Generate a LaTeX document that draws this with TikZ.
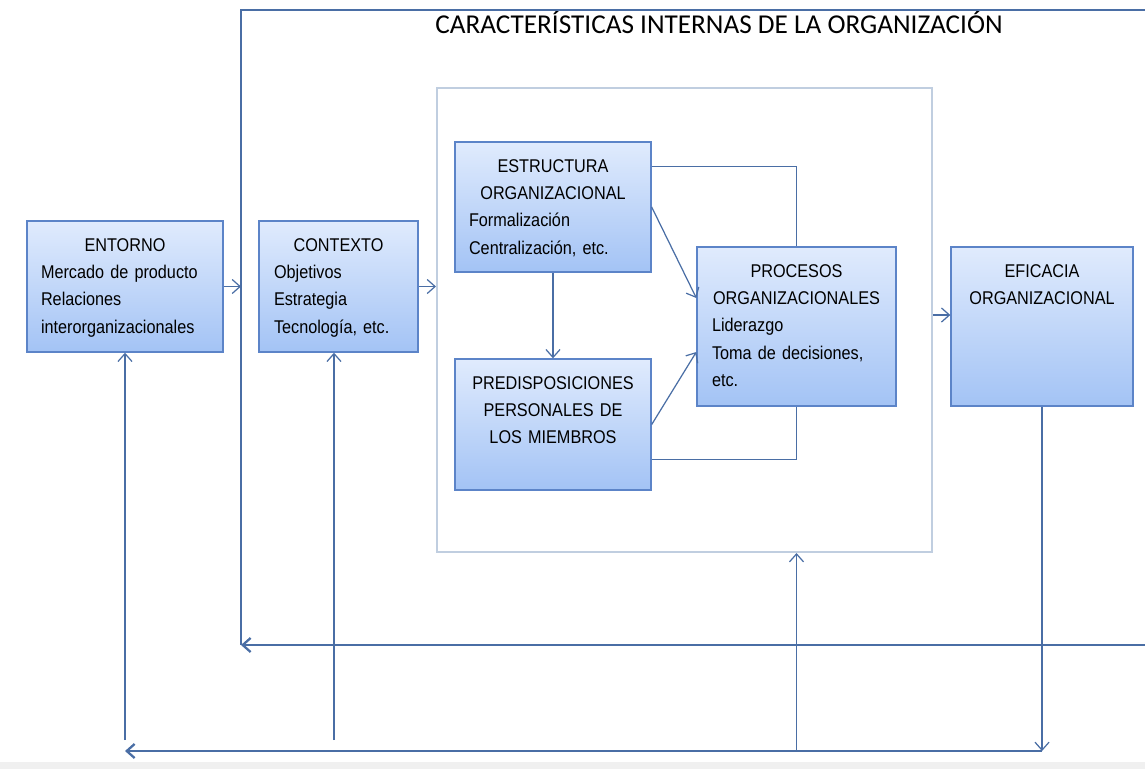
\documentclass[tikz,border=0pt]{standalone}
\usepackage{fontspec}
\setmainfont{Liberation Sans}
\newfontfamily\cajafont{Liberation Sans}[FakeStretch=0.88]
\newfontfamily\titulofont{Carlito}
\usetikzlibrary{arrows.meta,positioning}
\definecolor{lineaazul}{RGB}{74,110,165}
\definecolor{bordeazul}{RGB}{92,132,200}
\definecolor{cajaarriba}{RGB}{224,235,253}
\definecolor{cajaabajo}{RGB}{163,195,245}
\definecolor{marcogris}{RGB}{192,206,224}
\newcommand{\cabecera}[1]{{\centering #1\par}}
\tikzset{
  caja/.style={draw=bordeazul, line width=0.8pt, top color=cajaarriba, bottom color=cajaabajo, inner sep=0pt},
  texto/.style={font={\cajafont\fontsize{10.5pt}{15.6pt}\selectfont}, anchor=north, yshift=-0.35cm, inner sep=0pt},
  titulo/.style={font={\titulofont\fontsize{15.5pt}{18pt}\selectfont}, inner sep=0pt},
  flecha/.style={draw=lineaazul, line width=0.7pt, -{Straight Barb[length=4.5pt,width=8pt]}},
  linea/.style={draw=lineaazul, line width=0.7pt},
  retro/.style={flecha, line width=1.3pt},
}
\begin{document}
\begin{tikzpicture}[x=0.02cm, y=-0.02cm]
\useasboundingbox (0,0) rectangle (1145,769);
\fill[gray!12] (0,762) rectangle (1145,769);
% marco exterior y lineas de retorno
\coordinate (marcoSI) at (241,10);
\coordinate (marcoSD) at (1145,10);
\coordinate (marcoII) at (241,645);
\coordinate (marcoID) at (1145,645);
\coordinate (base) at (0,751);
\coordinate (pie) at (0,740);
\node[titulo] (titulo) at (719,22) {CARACTERÍSTICAS INTERNAS DE LA ORGANIZACIÓN};
\node[draw=marcogris, line width=1.2pt, minimum width=9.9cm, minimum height=9.28cm] (interior) at (684.5,320) {};
% cajas
\node[caja, minimum width=3.92cm, minimum height=2.62cm,
  label={[texto, text width=3.36cm, align=left]north:{\cabecera{ENTORNO}Mercado de producto\\Relaciones\\interorganizacionales}}] (entorno) at (125,286.5) {};
\node[caja, minimum width=3.18cm, minimum height=2.62cm,
  label={[texto, text width=2.58cm, align=left]north:{\cabecera{CONTEXTO}Objetivos\\Estrategia\\Tecnología, etc.}}] (contexto) at (338.5,286.5) {};
\node[caja, minimum width=3.92cm, minimum height=2.6cm,
  label={[texto, text width=3.36cm, align=left]north:{\cabecera{ESTRUCTURA\\ORGANIZACIONAL}Formalización\\Centralización, etc.}}] (estructura) at (553,207) {};
\node[caja, minimum width=3.92cm, minimum height=2.62cm,
  label={[texto, text width=3.36cm, align=center]north:{PREDISPOSICIONES\\PERSONALES DE\\LOS MIEMBROS}}] (predisp) at (553,424.5) {};
\node[caja, minimum width=3.98cm, minimum height=3.18cm,
  label={[texto, text width=3.38cm, align=left]north:{\cabecera{PROCESOS\\ORGANIZACIONALES}Liderazgo\\Toma de decisiones,\\etc.}}] (procesos) at (796.5,326.5) {};
\node[caja, minimum width=3.64cm, minimum height=3.18cm,
  label={[texto, text width=3.36cm, align=center]north:{EFICACIA\\ORGANIZACIONAL}}] (eficacia) at (1042,326.5) {};
% conexiones
\draw[flecha] (entorno.east) -- (entorno.east -| marcoII);
\draw[flecha] (contexto.east) -- (contexto.east -| interior.west);
\draw[flecha] (estructura.south) -- (predisp.north);
\draw[flecha] (estructura.east) -- ([yshift=0.57cm]procesos.west);
\draw[flecha] (predisp.east) -- ([yshift=-0.51cm]procesos.west);
\draw[linea] ([yshift=-0.5cm]estructura.north east) -| (procesos.north);
\draw[linea] ([yshift=0.62cm]predisp.south east) -| (procesos.south);
\draw[flecha] ([yshift=0.23cm]eficacia.west -| interior.east) -- ([yshift=0.23cm]eficacia.west);
\draw[flecha] (eficacia.south) -- (eficacia.south |- base);
\draw[retro] (eficacia.south |- base) -- (entorno.south |- base);
\draw[flecha] (entorno.south |- pie) -- (entorno.south);
\draw[flecha] ([xshift=-0.09cm]contexto.south |- pie) -- ([xshift=-0.09cm]contexto.south);
\draw[flecha] (procesos.south |- base) -- (procesos.south |- interior.south);
\draw[retro] (marcoID) -- (marcoII);
\draw[linea] (marcoII) -- (marcoSI) -- (marcoSD);
\end{tikzpicture}
\end{document}
